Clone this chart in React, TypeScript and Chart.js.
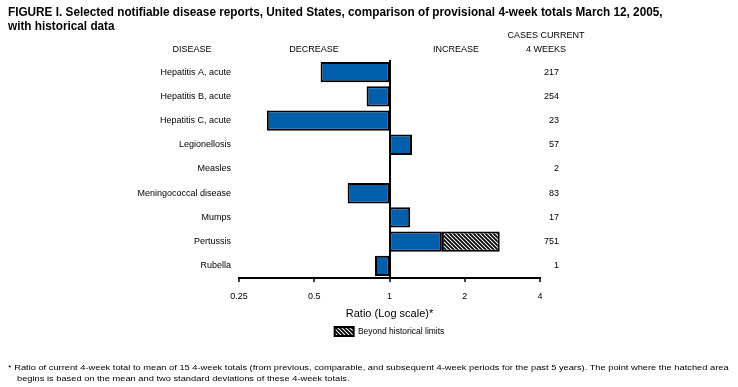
import React, { useEffect, useLayoutEffect, useRef } from "react";
import { Chart, registerables } from "chart.js";

Chart.register(...registerables);

// ---------- data ----------
const diseases = [
  "Hepatitis A, acute",
  "Hepatitis B, acute",
  "Hepatitis C, acute",
  "Legionellosis",
  "Measles",
  "Meningococcal disease",
  "Mumps",
  "Pertussis",
  "Rubella",
];
// ratio of current 4-week total to historical mean (1 = no change)
const ratios = [0.53, 0.81, 0.323, 1.23, 1, 0.68, 1.21, 1.62, 0.875];
// end of the "beyond historical limits" (hatched) part, where present
const beyondLimits: (number | null)[] = [null, null, null, null, null, null, null, 2.76, null];
const casesCurrent = [217, 254, 23, 57, 2, 83, 17, 751, 1];
const xTickValues = [0.25, 0.5, 1, 2, 4];

const FONT = '"Liberation Sans", Arial, Helvetica, sans-serif';
const BLUE = "#005EAA";

function makeHatch(): CanvasPattern | string {
  const c = document.createElement("canvas");
  c.width = 4;
  c.height = 4;
  const g = c.getContext("2d");
  if (!g) return "#888";
  g.fillStyle = "#fff";
  g.fillRect(0, 0, 4, 4);
  g.strokeStyle = "#000";
  g.lineWidth = 1.8;
  g.beginPath();
  g.moveTo(-1, -1);
  g.lineTo(5, 5);
  g.moveTo(-1, 3);
  g.lineTo(1, 5);
  g.moveTo(3, -1);
  g.lineTo(5, 1);
  g.stroke();
  return g.createPattern(c, "repeat") || "#888";
}

const casesPlugin = {
  id: "casesColumn",
  afterDraw(chart: any) {
    const ctx = chart.ctx;
    const y = chart.scales.y;
    ctx.save();
    ctx.font = `9px ${FONT}`;
    ctx.fillStyle = "#000";
    ctx.textAlign = "right";
    ctx.textBaseline = "middle";
    casesCurrent.forEach((c, i) => {
      ctx.fillText(String(c), 559, y.getPixelForValue(i));
    });
    ctx.restore();
  },
};

function FittedBlock(props: {
  lines: { text: string; indent: number }[];
  left: number;
  top: number;
  lineHeight: number;
  width: number;
  style: React.CSSProperties;
}) {
  const refs = useRef<(HTMLSpanElement | null)[]>([]);
  useLayoutEffect(() => {
    const first = refs.current[0];
    if (!first) return;
    const w = first.offsetWidth;
    if (!w) return;
    const s = (props.width - props.lines[0].indent) / w;
    refs.current.forEach((el) => {
      if (el) el.style.transform = `scaleX(${s})`;
    });
  }, []);
  return (
    <>
      {props.lines.map((l, i) => (
        <span
          key={i}
          ref={(el) => {
            refs.current[i] = el;
          }}
          style={{
            position: "absolute",
            left: props.left + l.indent,
            top: props.top + i * props.lineHeight,
            lineHeight: props.lineHeight + "px",
            whiteSpace: "nowrap",
            transformOrigin: "0 0",
            ...props.style,
          }}
        >
          {l.text}
        </span>
      ))}
    </>
  );
}

function Label(props: { text: string; cx: number; cy: number }) {
  return (
    <div
      style={{
        position: "absolute",
        left: props.cx - 60,
        width: 120,
        top: props.cy - 6,
        height: 12,
        lineHeight: "12px",
        textAlign: "center",
        fontSize: 9,
        color: "#000",
        whiteSpace: "nowrap",
      }}
    >
      {props.text}
    </div>
  );
}

export default function App() {
  const canvasRef = useRef<HTMLCanvasElement | null>(null);

  useEffect(() => {
    const canvas = canvasRef.current;
    if (!canvas) return;
    const hatch = makeHatch();
    const chart = new Chart(canvas, {
      type: "bar",
      data: {
        labels: diseases,
        datasets: [
          {
            label: "Ratio",
            data: ratios.map((r) => (r === 1 ? null : [Math.min(1, r), Math.max(1, r)])) as any,
            backgroundColor: BLUE,
            borderColor: "#000",
            borderWidth: 2,
            borderSkipped: false,
            grouped: false,
            barPercentage: 0.84,
            categoryPercentage: 1,
          } as any,
          {
            label: "Beyond historical limits",
            data: beyondLimits.map((e, i) => (e == null ? null : [ratios[i], e])) as any,
            backgroundColor: hatch as any,
            borderColor: "#000",
            borderWidth: 2,
            borderSkipped: false,
            grouped: false,
            barPercentage: 0.84,
            categoryPercentage: 1,
          } as any,
        ],
      },
      options: {
        indexAxis: "y",
        responsive: false,
        animation: false,
        devicePixelRatio: 1,
        layout: { padding: { left: 0, top: 60, right: 198, bottom: 41 } },
        scales: {
          x: {
            type: "logarithmic",
            min: 0.25,
            max: 4,
            afterBuildTicks: (axis: any) => {
              axis.ticks = xTickValues.map((v) => ({ value: v }));
            },
            afterFit: (s: any) => {
              s.height = 45;
            },
            ticks: {
              callback: (v: any) => String(v),
              font: { size: 9, family: FONT },
              color: "#000",
              padding: 9,
              maxRotation: 0,
              autoSkip: false,
            },
            grid: {
              display: true,
              drawOnChartArea: true,
              color: (ctx: any) => (ctx.tick && ctx.tick.value === 1 ? "#000" : "rgba(0,0,0,0)"),
              lineWidth: 2,
              tickColor: "#000",
              tickLength: 4,
              tickWidth: 1.5,
            },
            border: { display: true, color: "#000", width: 2 },
            title: {
              display: true,
              text: "Ratio (Log scale)*",
              font: { size: 11, family: FONT },
              color: "#000",
              padding: { top: 2, bottom: 2 },
            },
          } as any,
          y: {
            type: "category",
            afterFit: (s: any) => {
              s.width = 239;
            },
            grid: { display: false },
            border: { display: false },
            ticks: {
              font: { size: 9, family: FONT },
              color: "#000",
              padding: 0,
              autoSkip: false,
            },
          },
        },
        plugins: {
          legend: {
            position: "bottom",
            fullSize: false,
            labels: {
              filter: (item: any) => item.datasetIndex === 1,
              boxWidth: 19,
              boxHeight: 9,
              padding: 4,
              font: { size: 8.5, family: FONT },
              color: "#000",
            },
          },
          tooltip: { enabled: false },
        },
      } as any,
      plugins: [casesPlugin],
    });
    return () => chart.destroy();
  }, []);

  return (
    <div
      style={{
        position: "absolute",
        left: 0,
        top: 0,
        width: 738,
        height: 387,
        background: "#fff",
        fontFamily: FONT,
        color: "#000",
        overflow: "hidden",
      }}
    >
      <canvas
        ref={canvasRef}
        width={738}
        height={387}
        style={{ position: "absolute", left: 0, top: 0, width: 738, height: 387 }}
      />
      <FittedBlock
        lines={[
          {
            text: "FIGURE I. Selected notifiable disease reports, United States, comparison of provisional 4-week totals March 12, 2005,",
            indent: 0,
          },
          { text: "with historical data", indent: 0 },
        ]}
        left={8}
        top={5}
        lineHeight={14}
        width={655}
        style={{ fontWeight: "bold", fontSize: 12 }}
      />
      <Label text="CASES CURRENT" cx={546} cy={35} />
      <Label text="DISEASE" cx={192} cy={49} />
      <Label text="DECREASE" cx={314} cy={49} />
      <Label text="INCREASE" cx={456} cy={49} />
      <Label text="4 WEEKS" cx={546} cy={49} />
      <FittedBlock
        lines={[
          {
            text: "* Ratio of current 4-week total to mean of 15 4-week totals (from previous, comparable, and subsequent 4-week periods for the past 5 years). The point where the hatched area",
            indent: 0,
          },
          {
            text: "begins is based on the mean and two standard deviations of these 4-week totals.",
            indent: 9,
          },
        ]}
        left={8}
        top={362}
        lineHeight={11}
        width={721}
        style={{ fontSize: 8 }}
      />
    </div>
  );
}
